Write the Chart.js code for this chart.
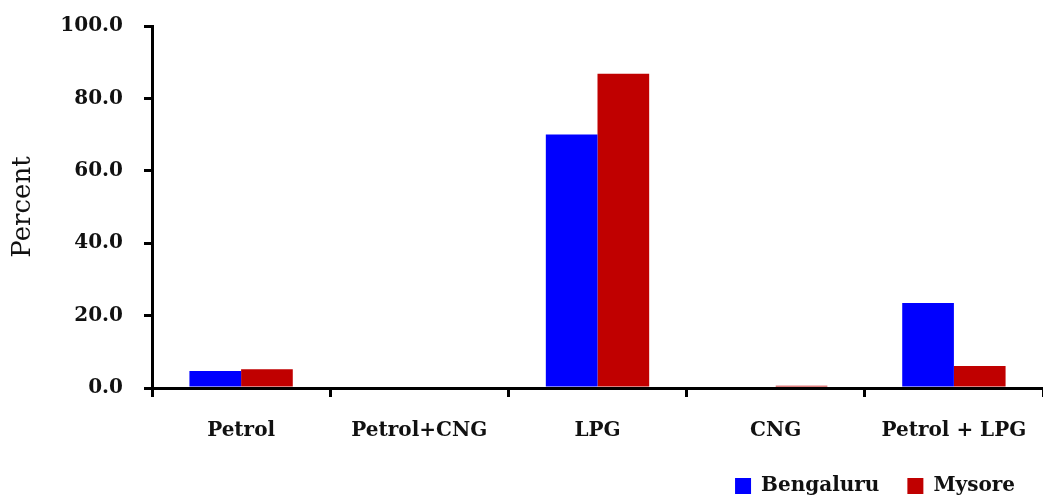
<!DOCTYPE html>
<html>
<head>
<meta charset="utf-8">
<script src="https://cdn.jsdelivr.net/npm/chart.js@4"></script>
<style>
  html, body { margin: 0; padding: 0; background: #fff; }
  #wrap { width: 1043px; height: 500px; }
</style>
</head>
<body>
<div id="wrap"><canvas id="fuelChart" width="1043" height="500"></canvas></div>
<script>
const categories = ['Petrol', 'Petrol+CNG', 'LPG', 'CNG', 'Petrol + LPG'];
const bengaluru = [4.7, 0.0, 70.0, 0.0, 23.5];
const mysore = [5.2, 0.0, 86.8, 0.6, 6.1];
const yTicks = [0, 20, 40, 60, 80, 100];

const fontFamily = '"DejaVu Serif", "Liberation Serif", serif';

const ctx = document.getElementById('fuelChart').getContext('2d');
new Chart(ctx, {
    type: 'bar',
    data: {
        labels: categories,
        datasets: [{
            label: 'Bengaluru',
            data: bengaluru,
            backgroundColor: '#0000ff',
            borderWidth: 0,
            categoryPercentage: 0.58,
            barPercentage: 1.0
        }, {
            label: 'Mysore',
            data: mysore,
            backgroundColor: '#c00000',
            borderWidth: 0,
            categoryPercentage: 0.58,
            barPercentage: 1.0
        }]
    },
    options: {
        responsive: false,
        animation: false,
        layout: {
            padding: { top: 26, right: 0, bottom: 0, left: 0 }
        },
        plugins: {
            tooltip: { enabled: false },
            legend: {
                position: 'bottom',
                align: 'end',
                maxHeight: 52,
                labels: {
                    color: '#111',
                    font: { family: fontFamily, size: 20, weight: 'bold' },
                    boxWidth: 16,
                    boxHeight: 16,
                    padding: 28
                }
            }
        },
        scales: {
            x: {
                grid: {
                    offset: true,
                    drawOnChartArea: false,
                    color: '#000',
                    lineWidth: 3,
                    tickLength: 9
                },
                border: { color: '#000', width: 3 },
                ticks: {
                    color: '#111',
                    padding: 22,
                    font: { family: fontFamily, size: 20, weight: 'bold' }
                },
                afterFit: function (scale) {
                    scale.height = 60;
                    scale.paddingLeft = 0;
                    scale.paddingRight = 0;
                }
            },
            y: {
                min: 0,
                max: 100,
                afterBuildTicks: function (scale) {
                    scale.ticks = yTicks.map(v => ({ value: v }));
                },
                grid: {
                    drawOnChartArea: false,
                    color: '#000',
                    lineWidth: 3,
                    tickLength: 8
                },
                border: { color: '#000', width: 3 },
                ticks: {
                    color: '#111',
                    padding: 21,
                    font: { family: fontFamily, size: 20, weight: 'bold' },
                    callback: function (value) { return Number(value).toFixed(1); }
                },
                title: {
                    display: true,
                    text: 'Percent',
                    color: '#111',
                    font: { family: fontFamily, size: 26 },
                    padding: { top: 8, bottom: 0 }
                },
                afterFit: function (scale) {
                    scale.width = 152;
                    scale.paddingTop = 0;
                    scale.paddingBottom = 0;
                }
            }
        }
    }
});
</script>
</body>
</html>
